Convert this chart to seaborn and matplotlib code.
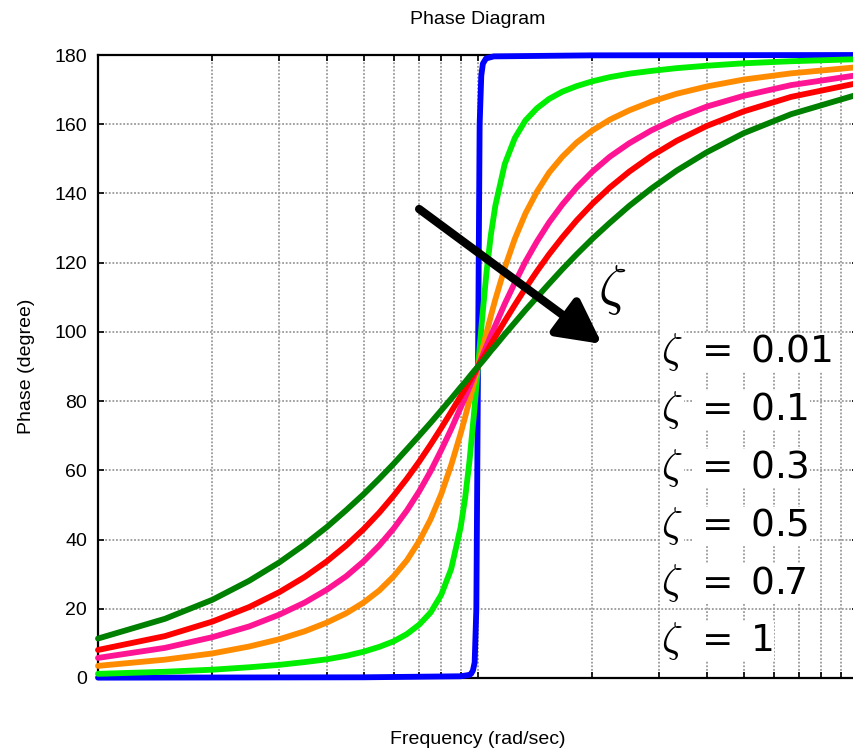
import matplotlib
matplotlib.use("Agg")
import matplotlib.pyplot as plt
import seaborn as sns
import pandas as pd

# Frequency samples (rad/sec) shared by the damped curves
freq = [0.1, 0.15, 0.2, 0.25, 0.3, 0.35, 0.4, 0.45, 0.5, 0.55, 0.6, 0.65, 0.7, 0.75,
        0.8, 0.85, 0.9, 0.925, 0.95, 0.975, 1.0,
        1.026, 1.053, 1.081, 1.111, 1.176, 1.25, 1.333, 1.429, 1.538, 1.667, 1.818,
        2.0, 2.222, 2.5, 2.857, 3.333, 4.0, 5.0, 6.667, 10.0]

# Phase (degree) per damping ratio
phase_z1 = [11.4, 17.1, 22.6, 28.1, 33.4, 38.6, 43.6, 48.5, 53.1, 57.6, 61.9, 66.1, 70.0, 73.7,
            77.3, 80.7, 84.0, 85.5, 87.1, 88.6, 90.0,
            91.4, 92.9, 94.5, 96.0, 99.3, 102.7, 106.3, 110.0, 113.9, 118.1, 122.4,
            126.9, 131.5, 136.4, 141.4, 146.6, 151.9, 157.4, 162.9, 168.6]
phase_z07 = [8.1, 12.1, 16.3, 20.5, 24.8, 29.2, 33.7, 38.3, 43.0, 47.8, 52.7, 57.6, 62.5, 67.4,
             72.2, 76.9, 81.4, 83.6, 85.8, 87.9, 90.0,
             92.1, 94.2, 96.4, 98.6, 103.1, 107.8, 112.6, 117.5, 122.4, 127.3, 132.2,
             137.0, 141.7, 146.3, 150.8, 155.2, 159.5, 163.7, 167.9, 171.9]
phase_z05 = [5.8, 8.7, 11.8, 14.9, 18.3, 21.8, 25.5, 29.4, 33.7, 38.3, 43.2, 48.4, 53.9, 59.7,
             65.8, 71.9, 78.1, 81.1, 84.1, 87.1, 90.0,
             92.9, 95.9, 98.9, 101.9, 108.1, 114.2, 120.3, 126.1, 131.6, 136.8, 141.7,
             146.3, 150.6, 154.5, 158.2, 161.7, 165.1, 168.2, 171.3, 174.2]
phase_z03 = [3.5, 5.3, 7.1, 9.1, 11.2, 13.5, 16.0, 18.7, 21.8, 25.3, 29.4, 34.0, 39.5, 45.8,
             53.1, 61.5, 70.6, 75.4, 80.3, 85.2, 90.0,
             94.8, 99.7, 104.6, 109.4, 118.5, 126.9, 134.2, 140.5, 146.0, 150.6, 154.7,
             158.2, 161.3, 164.0, 166.5, 168.8, 170.9, 172.9, 174.7, 176.5]
phase_z01 = [1.2, 1.8, 2.4, 3.1, 3.8, 4.6, 5.4, 6.4, 7.6, 9.0, 10.6, 12.7, 15.4, 18.9,
             24.0, 31.5, 43.5, 52.0, 62.8, 75.8, 90.0,
             104.2, 117.2, 128.0, 136.5, 148.5, 156.0, 161.1, 164.6, 167.3, 169.4, 171.0,
             172.4, 173.6, 174.6, 175.4, 176.2, 176.9, 177.6, 178.2, 178.8]

# Nearly undamped curve: flat, then a sharp jump at resonance
freq_z001 = [0.1, 0.5, 0.9, 0.95, 0.96, 0.97, 0.98, 0.99, 1.0, 1.01, 1.02, 1.03, 1.05,
             1.1, 2.0, 10.0]
phase_z001 = [0.1, 0.2, 0.5, 0.9, 1.3, 2.2, 4.5, 20.0, 90.0, 160.0, 174.0, 177.5, 179.0,
              179.6, 179.9, 180.0]

zeta_labels = ["0.01", "0.1", "0.3", "0.5", "0.7", "1"]
colors = ["#0000ff", "#00ee00", "#ff8c00", "#ff1493", "#ff0000", "#008000"]

series = [(freq_z001, phase_z001), (freq, phase_z01), (freq, phase_z03),
          (freq, phase_z05), (freq, phase_z07), (freq, phase_z1)]
frames = []
for lab, (f, p) in zip(zeta_labels, series):
    frames.append(pd.DataFrame({"freq": f, "phase": p, "zeta": lab}))
df = pd.concat(frames, ignore_index=True)

sns.set_theme(style="white")
plt.rcParams["font.family"] = ["Liberation Sans", "DejaVu Sans"]
for key in ["text.color", "axes.labelcolor", "xtick.color", "ytick.color"]:
    plt.rcParams[key] = "black"

fig = plt.figure(figsize=(8.54, 7.52), dpi=100)
W, H = 854, 752
left, right, top, bottom = 98, 858, 55, 678
ax = fig.add_axes([left / W, 1 - bottom / H, (right - left) / W, (bottom - top) / H])

sns.lineplot(data=df, x="freq", y="phase", hue="zeta", palette=colors,
             hue_order=zeta_labels, sort=False, estimator=None, lw=4.2,
             legend=False, ax=ax)
for ln in ax.get_lines():
    ln.set_clip_on(False)
    ln.set_zorder(5)
    ln.set_solid_joinstyle("round")

ax.set_xscale("log")
ax.set_xlim(0.1, 10)
ax.set_ylim(0, 180)
ax.set_yticks(range(0, 181, 20))
ax.set_xticks([0.1, 1, 10])
ax.set_xticklabels([])
ax.xaxis.set_minor_formatter(matplotlib.ticker.NullFormatter())

ax.grid(which="major", axis="both", color="#9a9a9a", linestyle=(0, (1, 1)), lw=1.3)
ax.grid(which="minor", axis="x", color="#9a9a9a", linestyle=(0, (1, 1)), lw=1.3)
ax.tick_params(which="both", direction="in", top=True, right=True, bottom=True, left=True,
               length=4, width=1.2, color="black", labelsize=14, pad=8)
for s in ax.spines.values():
    s.set_color("black")
    s.set_linewidth(1.6)

ax.set_title("Phase Diagram", fontsize=14, pad=22)
ax.set_ylabel("Phase (degree)", fontsize=14, labelpad=14)
ax.set_xlabel("Frequency (rad/sec)", fontsize=14, labelpad=30)

# Arrow showing increasing damping
ax.annotate("", xy=(2.12, 96.5), xytext=(0.70, 135.5),
            arrowprops=dict(arrowstyle="-|>,head_length=1.15,head_width=0.6",
                            lw=6, color="black", mutation_scale=23,
                            shrinkA=0, shrinkB=0), zorder=8)
ax.text(2.25, 112, r"$\zeta$", fontsize=40, ha="center", va="center", zorder=8,
        math_fontfamily="cm")

# Damping ratio labels: zeta symbol, then "= value"
row_px = [352, 410, 468, 526, 583, 641]
box = dict(facecolor="white", edgecolor="none", pad=1.0)
for lab, yp in zip(zeta_labels, row_px):
    yf = (bottom - yp) / (bottom - top)
    ax.text((661 - left) / (right - left), yf, r"$\zeta$", transform=ax.transAxes,
            fontsize=30, ha="left", va="center", zorder=9, bbox=box,
            math_fontfamily="cm")
    ax.text((694 - left) / (right - left), yf, r"$=\;%s$" % lab, transform=ax.transAxes,
            fontsize=27, ha="left", va="center", zorder=9, bbox=box)

fig.savefig("out.png", dpi=100)
